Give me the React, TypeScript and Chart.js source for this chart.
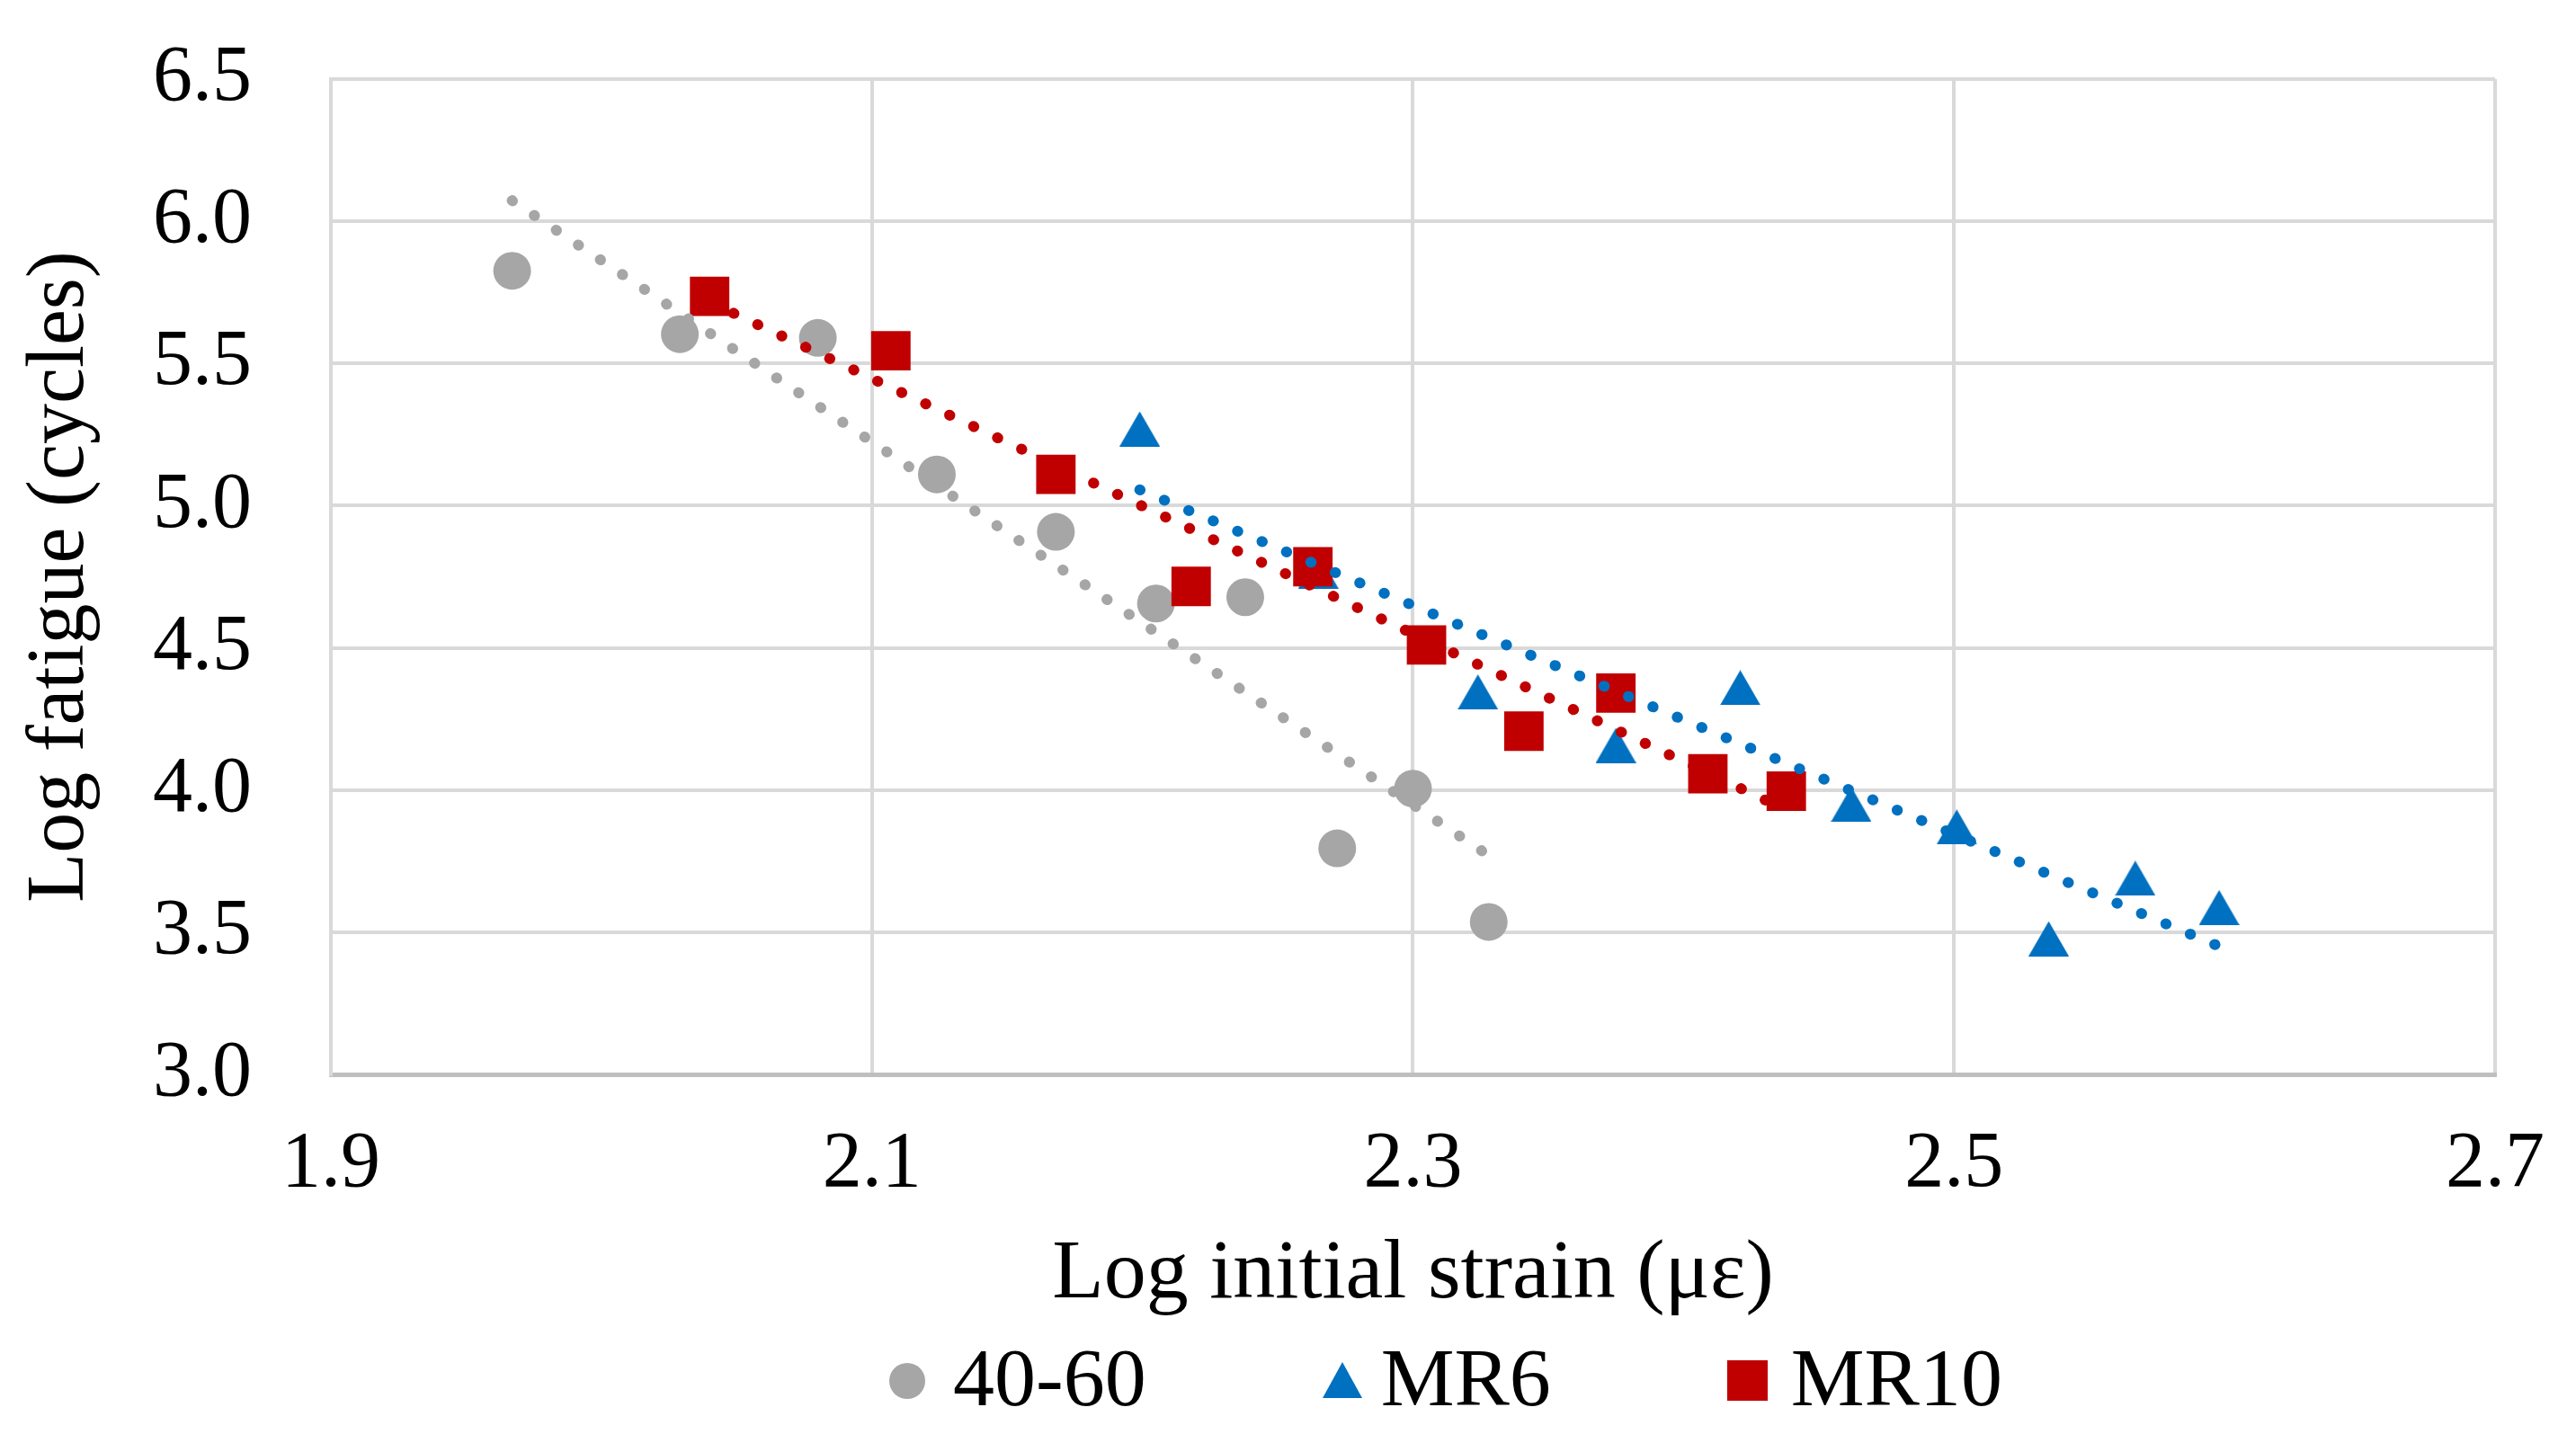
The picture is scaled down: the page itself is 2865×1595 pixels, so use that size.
import { useEffect, useRef } from "react"
import { Chart, registerables } from "chart.js"

Chart.register(...registerables)

// Valores (log deformação inicial x log fadiga)
const strain4060 = [1.967, 2.029, 2.08, 2.124, 2.168, 2.205, 2.238, 2.272, 2.3, 2.328]
const fatigue4060 = [5.826, 5.603, 5.59, 5.11, 4.908, 4.656, 4.678, 3.795, 4.005, 3.536]

const strainMR6 = [2.199, 2.265, 2.324, 2.375, 2.421, 2.462, 2.501, 2.535, 2.567, 2.598]
const fatigueMR6 = [5.27, 4.77, 4.345, 4.157, 4.36, 3.95, 3.87, 3.477, 3.69, 3.587]

const strainMR10 = [2.04, 2.107, 2.168, 2.218, 2.263, 2.305, 2.341, 2.375, 2.409, 2.438]
const fatigueMR10 = [5.736, 5.545, 5.11, 4.716, 4.785, 4.51, 4.207, 4.341, 4.057, 3.996]

const seriesNames = ["40-60", "MR6", "MR10"]
const xTicks = [1.9, 2.1, 2.3, 2.5, 2.7]
const yTicks = [3.0, 3.5, 4.0, 4.5, 5.0, 5.5, 6.0, 6.5]

const GRAY = "#a6a6a6"
const BLUE = "#0070c0"
const RED = "#c00000"
const GRID = "#d9d9d9"
const FONT = "'Liberation Serif', 'Times New Roman', serif"

function toPoints(xs: number[], ys: number[]) {
  return xs.map((x, i) => ({ x, y: ys[i] }))
}

// Linha de tendência linear (mínimos quadrados), do menor ao maior x
function trendLine(xs: number[], ys: number[]) {
  const n = xs.length
  const mx = xs.reduce((a, b) => a + b, 0) / n
  const my = ys.reduce((a, b) => a + b, 0) / n
  let sxy = 0
  let sxx = 0
  xs.forEach((x, i) => {
    sxy += (x - mx) * (ys[i] - my)
    sxx += (x - mx) * (x - mx)
  })
  const slope = sxy / sxx
  const x0 = Math.min(...xs)
  const x1 = Math.max(...xs)
  return [
    { x: x0, y: my + slope * (x0 - mx) },
    { x: x1, y: my + slope * (x1 - mx) },
  ]
}

function trendDataset(label: string, xs: number[], ys: number[], color: string, order: number) {
  return {
    label,
    data: trendLine(xs, ys),
    showLine: true,
    borderColor: color,
    borderWidth: 12,
    borderDash: [0.5, 29],
    borderCapStyle: "round" as const,
    pointRadius: 0,
    pointHoverRadius: 0,
    fill: false,
    order,
  }
}

function FatigueChart() {
  const chartRef = useRef<HTMLCanvasElement>(null)
  const chartInstance = useRef<Chart | null>(null)

  useEffect(() => {
    if (!chartRef.current) return
    if (chartInstance.current) chartInstance.current.destroy()
    const ctx = chartRef.current.getContext("2d")
    if (!ctx) return

    // Triângulo centrado na caixa, como no Excel
    const tri = document.createElement("canvas")
    tri.width = 45
    tri.height = 39
    const tctx = tri.getContext("2d")
    if (tctx) {
      tctx.fillStyle = BLUE
      tctx.beginPath()
      tctx.moveTo(22.5, 0)
      tctx.lineTo(45, 39)
      tctx.lineTo(0, 39)
      tctx.closePath()
      tctx.fill()
    }

    chartInstance.current = new Chart(ctx, {
      type: "scatter",
      data: {
        datasets: [
          {
            label: seriesNames[0],
            data: toPoints(strain4060, fatigue4060),
            pointStyle: "circle",
            pointRadius: 21,
            backgroundColor: GRAY,
            pointBackgroundColor: GRAY,
            borderWidth: 0,
            pointBorderWidth: 0,
            order: 6,
          },
          {
            label: seriesNames[1],
            data: toPoints(strainMR6, fatigueMR6),
            pointStyle: tri,
            pointRadius: 22,
            backgroundColor: BLUE,
            borderWidth: 0,
            pointBorderWidth: 0,
            order: 5,
          },
          {
            label: seriesNames[2],
            data: toPoints(strainMR10, fatigueMR10),
            pointStyle: "rect",
            pointRadius: 31,
            backgroundColor: RED,
            pointBackgroundColor: RED,
            borderWidth: 0,
            pointBorderWidth: 0,
            order: 4,
          },
          trendDataset("Linear (40-60)", strain4060, fatigue4060, GRAY, 3),
          trendDataset("Linear (MR6)", strainMR6, fatigueMR6, BLUE, 2),
          trendDataset("Linear (MR10)", strainMR10, fatigueMR10, RED, 1),
        ],
      },
      options: {
        animation: false,
        responsive: true,
        maintainAspectRatio: false,
        layout: { padding: { left: 0, top: 88, right: 90, bottom: 120 } },
        plugins: {
          legend: { display: false },
          tooltip: { enabled: false },
        },
        scales: {
          x: {
            type: "linear",
            min: 1.9,
            max: 2.7,
            afterBuildTicks: (scale) => {
              scale.ticks = xTicks.map((value) => ({ value }))
            },
            afterFit: (scale) => {
              scale.height = 280
              scale.paddingLeft = 0
              scale.paddingRight = 0
            },
            grid: { color: GRID, lineWidth: 4, drawTicks: false },
            border: { color: "#bfbfbf", width: 5 },
            ticks: {
              padding: 48,
              color: "#000",
              font: { family: FONT, size: 88 },
              maxRotation: 0,
              callback: (value) => Number(value).toFixed(1),
            },
            title: {
              display: true,
              text: "Log initial strain (με)",
              color: "#000",
              font: { family: FONT, size: 94 },
              padding: { top: 0, bottom: 0 },
            },
          },
          y: {
            type: "linear",
            min: 3.0,
            max: 6.5,
            afterBuildTicks: (scale) => {
              scale.ticks = yTicks.map((value) => ({ value }))
            },
            afterFit: (scale) => {
              scale.width = 368
              scale.paddingTop = 0
              scale.paddingBottom = 0
            },
            grid: { color: GRID, lineWidth: 4, drawTicks: false },
            border: { color: GRID, width: 4 },
            ticks: {
              padding: 88,
              color: "#000",
              font: { family: FONT, size: 88 },
              callback: (value) => Number(value).toFixed(1),
            },
            title: {
              display: true,
              text: "Log fatigue (cycles)",
              color: "#000",
              font: { family: FONT, size: 90 },
              padding: { top: 14, bottom: 0 },
            },
          },
        },
      },
    })

    return () => {
      if (chartInstance.current) {
        chartInstance.current.destroy()
        chartInstance.current = null
      }
    }
  }, [])

  const textStyle = {
    fontFamily: FONT,
    fontSize: 92,
    lineHeight: "92px",
    color: "#000",
  }

  return (
    <div style={{ position: "fixed", left: 0, top: 0, width: "100vw", height: "100vh", background: "#fff" }}>
      <canvas ref={chartRef} />
      <div
        style={{
          position: "absolute",
          left: 989,
          top: 1486,
          display: "flex",
          alignItems: "flex-start",
          whiteSpace: "nowrap",
        }}
      >
        <div style={{ width: 40, height: 40, borderRadius: "50%", background: GRAY, marginTop: 30, marginRight: 31 }} />
        <span style={textStyle}>{seriesNames[0]}</span>
        <div
          style={{
            width: 0,
            height: 0,
            borderLeft: "22px solid transparent",
            borderRight: "22px solid transparent",
            borderBottom: `40px solid ${BLUE}`,
            marginTop: 29,
            marginLeft: 196,
            marginRight: 21,
          }}
        />
        <span style={textStyle}>{seriesNames[1]}</span>
        <div style={{ width: 45, height: 45, background: RED, marginTop: 27, marginLeft: 196, marginRight: 26 }} />
        <span style={textStyle}>{seriesNames[2]}</span>
      </div>
    </div>
  )
}

export default function App() {
  return <FatigueChart />
}
